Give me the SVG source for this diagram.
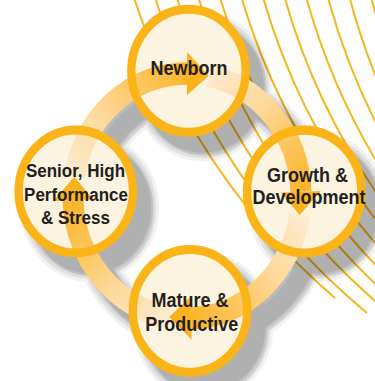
<svg xmlns="http://www.w3.org/2000/svg" xmlns:xlink="http://www.w3.org/1999/xlink" width="375" height="381" viewBox="0 0 375 381">
<style>
.ln{fill:none;stroke:#f7b41c;stroke-width:2}
.fillc{fill:#fdf3e1}
.ring{fill:none;stroke:#fbb417;stroke-width:8.4}
.band{fill:none;stroke-width:21}
.head{fill:#fbb21b}
.lbl{font-family:"Liberation Sans",Arial,sans-serif;font-weight:bold;font-size:18px;fill:#231f20;text-anchor:middle}
.sm{font-size:17px}
.shl{fill:#000;stroke:#000;stroke-linejoin:round}
</style>
<defs>
<linearGradient id="g1" gradientUnits="userSpaceOnUse" x1="74.4" y1="164.6" x2="187" y2="68.4"><stop offset="0" stop-color="#fdeacf"/><stop offset="0.4" stop-color="#fdd898"/><stop offset="0.75" stop-color="#fcc356"/><stop offset="1" stop-color="#fbb52a"/></linearGradient>
<linearGradient id="g2" gradientUnits="userSpaceOnUse" x1="208.8" y1="70.5" x2="300.9" y2="178.4"><stop offset="0" stop-color="#fdeacf"/><stop offset="0.4" stop-color="#fdd898"/><stop offset="0.75" stop-color="#fcc356"/><stop offset="1" stop-color="#fbb52a"/></linearGradient>
<linearGradient id="g3" gradientUnits="userSpaceOnUse" x1="299.6" y1="200.2" x2="191" y2="296.3"><stop offset="0" stop-color="#fdeacf"/><stop offset="0.4" stop-color="#fdd898"/><stop offset="0.75" stop-color="#fcc356"/><stop offset="1" stop-color="#fbb52a"/></linearGradient>
<linearGradient id="g4" gradientUnits="userSpaceOnUse" x1="169.2" y1="295" x2="73.1" y2="186.4"><stop offset="0" stop-color="#fdeacf"/><stop offset="0.4" stop-color="#fdd898"/><stop offset="0.75" stop-color="#fcc356"/><stop offset="1" stop-color="#fbb52a"/></linearGradient>
<path id="lnL" class="ln" d="M120.4 -50 A667 667 0 0 0 420 359.9"/>
<g id="shs">
<circle cx="188.5" cy="65.9" r="61.3"/>
<circle cx="304.2" cy="178.3" r="61.3"/>
<circle cx="190" cy="289.3" r="61.3"/>
<circle cx="75.8" cy="178.1" r="61.3"/>
<path fill-rule="evenodd" d="M312 182.4 A125 125 0 1 0 62 182.4 A125 125 0 1 0 312 182.4 Z M290 182.4 A103 103 0 1 0 84 182.4 A103 103 0 1 0 290 182.4 Z"/>
</g>
</defs>
<g id="background-lines">
<path class="ln" d="M120.4 -50 A667 667 0 0 0 335 298"/>
<path class="ln" transform="translate(22.6 3.5)" d="M120.4 -50 A667 667 0 0 0 344.4 309.5"/>
<use xlink:href="#lnL" href="#lnL" transform="translate(45.2 7)"/>
<use xlink:href="#lnL" href="#lnL" transform="translate(67.8 10.5)"/>
<use xlink:href="#lnL" href="#lnL" transform="translate(90.4 14)"/>
<use xlink:href="#lnL" href="#lnL" transform="translate(113 17.5)"/>
<use xlink:href="#lnL" href="#lnL" transform="translate(135.6 21)"/>
<use xlink:href="#lnL" href="#lnL" transform="translate(158.2 24.5)"/>
<use xlink:href="#lnL" href="#lnL" transform="translate(180.8 28)"/>
<use xlink:href="#lnL" href="#lnL" transform="translate(203.4 31.5)"/>
<use xlink:href="#lnL" href="#lnL" transform="translate(226 35)"/>
<use xlink:href="#lnL" href="#lnL" transform="translate(248.6 38.5)"/>
</g>
<g id="shadow" transform="translate(14 16) scale(1 1.0745)">
<use xlink:href="#shs" href="#shs" class="shl" stroke-width="16" opacity="0.05"/>
<use xlink:href="#shs" href="#shs" class="shl" stroke-width="10" opacity="0.07"/>
<use xlink:href="#shs" href="#shs" class="shl" stroke-width="4" opacity="0.08"/>
<use xlink:href="#shs" href="#shs" fill="#000" opacity="0.08"/>
<use xlink:href="#shs" href="#shs" fill="#000" opacity="0.05" transform="translate(3 3)"/>
</g>
<g transform="scale(1 1.0745)">
<g id="node-backdrops">
<circle class="fillc" cx="188.5" cy="65.9" r="57.2"/>
<circle class="fillc" cx="304.2" cy="178.3" r="57.2"/>
<circle class="fillc" cx="190" cy="289.3" r="57.2"/>
<circle class="fillc" cx="75.8" cy="178.1" r="57.2"/>
</g>
<g id="connectors">
<path class="band" stroke="url(#g1)" d="M74.4 164.6 A114 114 0 0 1 187 68.4"/>
<path class="band" stroke="url(#g2)" d="M208.8 70.5 A114 114 0 0 1 300.9 178.4"/>
<path class="band" stroke="url(#g3)" d="M299.6 200.2 A114 114 0 0 1 191 296.3"/>
<path class="band" stroke="url(#g4)" d="M169.2 295 A114 114 0 0 1 73.1 186.4"/>
<polygon class="head" points="187,48.4 187,88.4 208.8,70.5"/>
<polygon class="head" points="320.9,177.7 280.9,179.1 299.6,200.2"/>
<polygon class="head" points="191.7,316.3 190.3,276.3 169.2,295"/>
<polygon class="head" points="53.1,187.1 93.1,185.7 74.4,164.6"/>
</g>
<g id="node-newborn">
<circle class="ring" cx="188.5" cy="65.9" r="57.2"/>
<text class="lbl" x="189" y="69.8">Newborn</text>
</g>
<g id="node-growth">
<circle class="ring" cx="304.2" cy="178.3" r="57.2"/>
<text class="lbl" x="307.5" y="169.4">Growth &amp;</text>
<text class="lbl" x="309" y="189.9">Development</text>
</g>
<g id="node-mature">
<circle class="ring" cx="190" cy="289.3" r="57.2"/>
<text class="lbl" x="190" y="285.4">Mature &amp;</text>
<text class="lbl" x="191.7" y="307.8">Productive</text>
</g>
<g id="node-senior">
<circle class="ring" cx="75.8" cy="178.1" r="57.2"/>
<text class="lbl sm" x="75.5" y="164.7">Senior, High</text>
<text class="lbl sm" x="76" y="187.5">Performance</text>
<text class="lbl sm" x="75.5" y="208.5">&amp; Stress</text>
</g>
</g>
</svg>
